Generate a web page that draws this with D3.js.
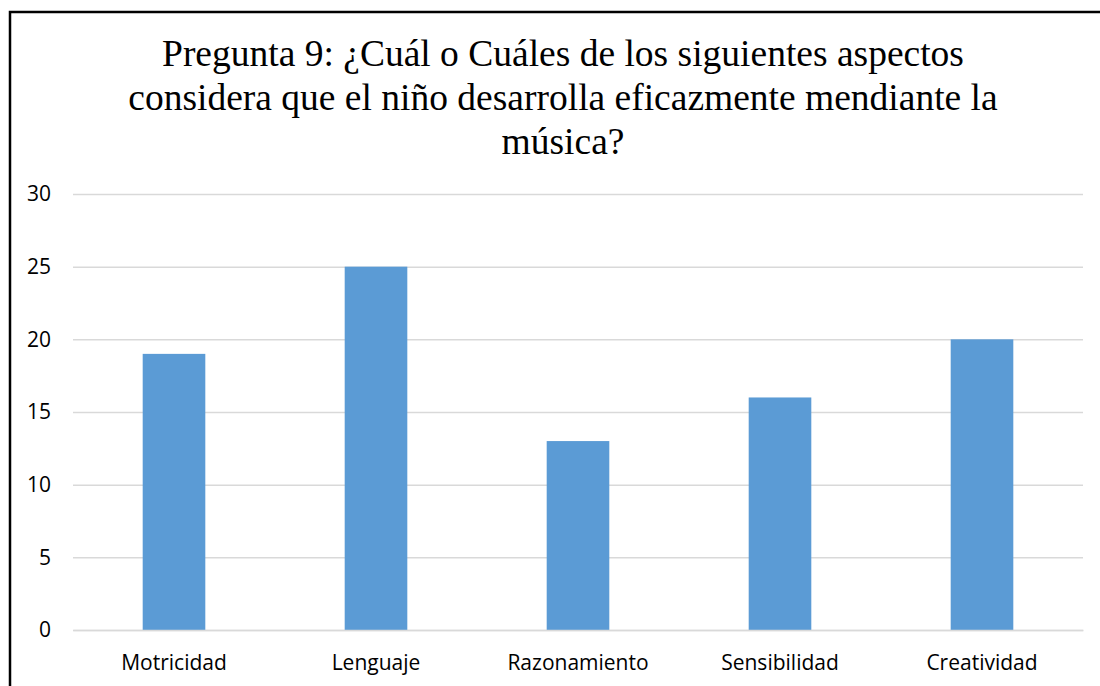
<!DOCTYPE html>
<html>
<head>
<meta charset="utf-8">
<script src="https://cdn.jsdelivr.net/npm/d3@7"></script>
<style>
  body { margin: 0; background: #fff; }
  svg { display: block; }
</style>
</head>
<body>
<svg width="1100" height="686"></svg>
<script>
// datos de la pregunta 9
var categories = ["Motricidad", "Lenguaje", "Razonamiento", "Sensibilidad", "Creatividad"];
var values = [19, 25, 13, 16, 20];
var yTicks = [0, 5, 10, 15, 20, 25, 30];
var titleLines = [
    "Pregunta 9: ¿Cuál o Cuáles de los siguientes aspectos",
    "considera que el niño desarrolla eficazmente mendiante la",
    "música?"
];

var svg = d3.select("svg");

// marco negro
svg.append("rect")
    .attr("x", 10).attr("y", 12)
    .attr("width", 1100).attr("height", 700)
    .attr("fill", "none")
    .attr("stroke", "#000")
    .attr("stroke-width", 2.5);

var margin = {left: 73, right: 1083, top: 194, bottom: 630};

var x = d3.scaleBand()
    .domain(categories)
    .range([margin.left, margin.right])
    .paddingInner(0.69)
    .paddingOuter(0.345);

var y = d3.scaleLinear()
    .domain([0, 30])
    .range([margin.bottom, margin.top]);

// titulo
svg.append("g").selectAll("text")
    .data(titleLines).enter().append("text")
    .attr("x", 563)
    .attr("y", function (d, i) { return 66 + i * 44; })
    .attr("text-anchor", "middle")
    .attr("font-family", "'Liberation Serif', 'Times New Roman', serif")
    .attr("font-size", 37.5)
    .attr("fill", "#000")
    .text(function (d) { return d; });

// lineas de cuadricula
var yAxis = svg.append("g")
    .attr("transform", "translate(" + margin.left + ",0)")
    .call(d3.axisLeft(y).tickValues(yTicks)
        .tickSize(-(margin.right - margin.left))
        .tickPadding(22));

yAxis.select(".domain").remove();
yAxis.selectAll(".tick line")
    .attr("stroke", "#d9d9d9")
    .attr("stroke-width", 1.5);
yAxis.selectAll(".tick text")
    .attr("font-family", "'Open Sans', sans-serif")
    .attr("font-size", 21)
    .attr("fill", "#000");

// barras
svg.append("g").selectAll("rect")
    .data(values).enter().append("rect")
    .attr("x", function (d, i) { return x(categories[i]); })
    .attr("y", function (d) { return y(d); })
    .attr("width", x.bandwidth())
    .attr("height", function (d) { return y(0) - y(d); })
    .attr("fill", "#5b9bd5");

// etiquetas del eje x
var xAxis = svg.append("g")
    .attr("transform", "translate(0," + margin.bottom + ")")
    .call(d3.axisBottom(x).tickSize(0).tickPadding(25));

xAxis.select(".domain")
    .attr("stroke", "#d9d9d9")
    .attr("stroke-width", 1.5);
xAxis.selectAll(".tick text")
    .attr("font-family", "'Open Sans', sans-serif")
    .attr("font-size", 21)
    .attr("fill", "#000");
</script>
</body>
</html>
